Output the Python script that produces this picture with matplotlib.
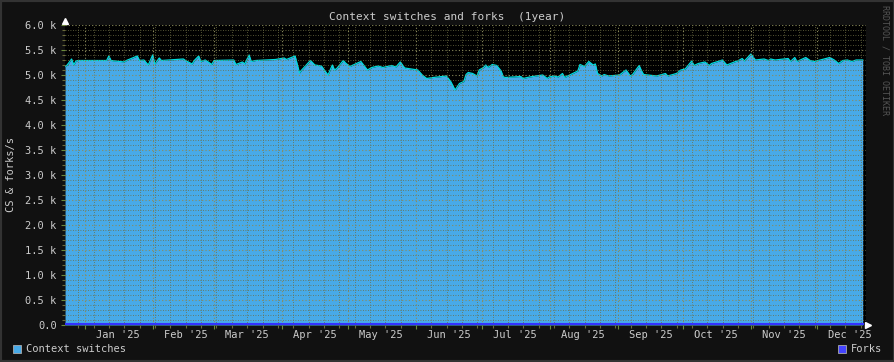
import numpy as np
import pandas as pd
import matplotlib
matplotlib.use('Agg')
import matplotlib.pyplot as plt
import matplotlib.dates as mdates
from matplotlib.ticker import MultipleLocator, FuncFormatter
from matplotlib.patches import Rectangle

# data (day offset from start, context switches/s)
start = pd.Timestamp('2024-12-22 21:00')
cs_days = [0, 1, 3, 4, 5, 6, 19, 20, 21, 27, 28, 33, 34, 36, 38, 40, 41, 43, 44, 54,
           55, 58, 59, 61, 62, 64, 67, 68, 77, 78, 81, 82, 84, 85, 87, 96, 100, 101, 105, 107,
           108, 112, 114, 117, 120, 122, 123, 124, 127, 128, 130, 135, 138, 140, 143, 145, 149, 151, 153, 155,
           161, 163, 165, 168, 174, 176, 178, 180, 182, 183, 184, 186, 188, 189, 191, 192, 193, 195, 197, 199,
           200, 201, 208, 209, 212, 218, 220, 221, 223, 225, 227, 228, 234, 235, 237, 239, 241, 242, 243, 245,
           246, 248, 253, 256, 258, 259, 262, 263, 264, 270, 274, 275, 279, 281, 283, 286, 287, 289, 292, 294,
           295, 300, 302, 306, 307, 309, 310, 313, 315, 319, 321, 322, 324, 330, 331, 333, 334, 338, 340, 342,
           349, 351, 353, 355, 357, 359, 361, 364]
cs_values = [5170, 5200, 5320, 5200, 5280, 5290, 5290, 5380, 5290, 5260, 5290, 5380, 5290, 5300, 5200, 5400, 5220, 5340, 5290, 5320,
             5290, 5220, 5290, 5380, 5270, 5300, 5210, 5290, 5300, 5210, 5260, 5220, 5400, 5270, 5290, 5310, 5340, 5310, 5380, 5040,
             5100, 5290, 5200, 5180, 5000, 5200, 5100, 5130, 5290, 5240, 5170, 5270, 5100, 5150, 5180, 5150, 5190, 5160, 5260, 5140,
             5100, 5000, 4930, 4950, 4980, 4870, 4700, 4830, 4870, 5010, 5050, 5030, 4980, 5100, 5150, 5200, 5150, 5210, 5190, 5080,
             4960, 4950, 4970, 4930, 4960, 5000, 4930, 4960, 4980, 4960, 5030, 4950, 5080, 5210, 5170, 5270, 5200, 5220, 5030, 4980,
             5010, 4980, 5000, 5100, 4980, 5010, 5190, 5090, 5010, 4980, 5030, 4980, 5030, 5100, 5120, 5280, 5190, 5230, 5260, 5190,
             5230, 5300, 5200, 5270, 5280, 5330, 5280, 5420, 5300, 5320, 5290, 5320, 5300, 5330, 5270, 5350, 5270, 5350, 5290, 5270,
             5350, 5300, 5230, 5290, 5300, 5270, 5300, 5300]
forks_days = [0, 364]
forks_values = [20, 20]
months = ['Jan', 'Feb', 'Mar', 'Apr', 'May', 'Jun', 'Jul', 'Aug', 'Sep', 'Oct', 'Nov', 'Dec']

cs_x = start + pd.to_timedelta(cs_days, unit='D')
forks_x = start + pd.to_timedelta(forks_days, unit='D')

plt.rcParams['font.family'] = ['DejaVu Sans Mono']
txt = '#cccccc'
fs = 7.5

fig = plt.figure(figsize=(8.95, 3.62), dpi=100, facecolor='#111111')
fig.patches.append(Rectangle((0, 0), 1, 1, transform=fig.transFigure, fill=False,
                             edgecolor='#333333', lw=3))
W, H = 895, 362
ax = fig.add_axes([65 / W, (H - 325) / H, (866 - 65) / W, 300 / H])
ax.set_facecolor('#000000')

ax.fill_between(cs_x, 0, cs_values, color='#48aae8', lw=0, zorder=1)
ax.plot(cs_x, cs_values, color='#00dddd', lw=0.9, zorder=2)
ax.fill_between(forks_x, 0, forks_values, color='#3333ff', lw=0, zorder=3)
ax.plot(forks_x, forks_values, color='#3333ff', lw=1.5, zorder=3)

ax.set_xlim(start, start + pd.Timedelta(days=365.5))
ax.set_ylim(0, 6000)

# grid on top of the area like rrdtool
ax.xaxis.set_major_locator(mdates.MonthLocator())
ax.xaxis.set_minor_locator(mdates.WeekdayLocator(byweekday=mdates.SU))
ax.yaxis.set_major_locator(MultipleLocator(500))
ax.yaxis.set_minor_locator(MultipleLocator(100))
ax.set_axisbelow(False)
ax.grid(which='major', color='#8c8c5c', ls=(0, (1, 2)), lw=0.8, zorder=4)
ax.grid(which='minor', color='#6e6e44', ls=(0, (1, 2)), lw=0.6, zorder=4)

ax.yaxis.set_major_formatter(FuncFormatter(lambda v, p: '0.0' if v == 0 else '%.1f k' % (v / 1000)))
ax.tick_params(axis='y', which='major', colors='#6c8c3c', length=3, width=0.8, labelcolor=txt,
               labelsize=fs, pad=3)
ax.tick_params(axis='y', which='minor', colors='#6c6c3c', length=2, width=0.8)
ax.tick_params(axis='x', which='major', colors='#6c8c3c', length=3, width=0.8, labelbottom=False)
ax.tick_params(axis='x', which='minor', colors='#6c6c3c', length=2, width=0.8)
for s in ax.spines.values():
    s.set_visible(False)

# month labels centred in the month
for i, m in enumerate(months):
    mid = pd.Timestamp(2025, i + 1, 16)
    ax.text(mid, -10 / 300, "%s '25" % m, transform=ax.get_xaxis_transform(),
            ha='center', va='center', color=txt, fontsize=fs)

# arrows
ax.plot([0], [1 + 4.5 / 300], marker='^', color='white', ms=4, transform=ax.transAxes, clip_on=False)
ax.plot([1 + 2 / 801], [0], marker='>', color='white', ms=4, transform=ax.transAxes, clip_on=False)

fig.text(447 / W, 1 - 17 / H, 'Context switches and forks  (1year)', ha='center', va='center',
         color=txt, fontsize=8)
fig.text(11 / W, 1 - 175 / H, 'CS & forks/s', rotation=90, ha='center', va='center',
         color=txt, fontsize=fs)
fig.text(885 / W, 1 - 5 / H, 'RRDTOOL / TOBI OETIKER', rotation=270, ha='center', va='top',
         color='#555555', fontsize=6)

# legend
fig.patches.append(Rectangle((13 / W, 1 - 353 / H), 8 / W, 8 / H, transform=fig.transFigure,
                             facecolor='#48aae8', edgecolor='#aaaaaa', lw=0.6))
fig.text(26 / W, 1 - 349.5 / H, 'Context switches', ha='left', va='center', color=txt, fontsize=fs)
fig.patches.append(Rectangle((838 / W, 1 - 353 / H), 8 / W, 8 / H, transform=fig.transFigure,
                             facecolor='#4444ff', edgecolor='#aaaaaa', lw=0.6))
fig.text(851 / W, 1 - 349.5 / H, 'Forks', ha='left', va='center', color=txt, fontsize=fs)

fig.savefig('out.png', dpi=100, facecolor=fig.get_facecolor())
